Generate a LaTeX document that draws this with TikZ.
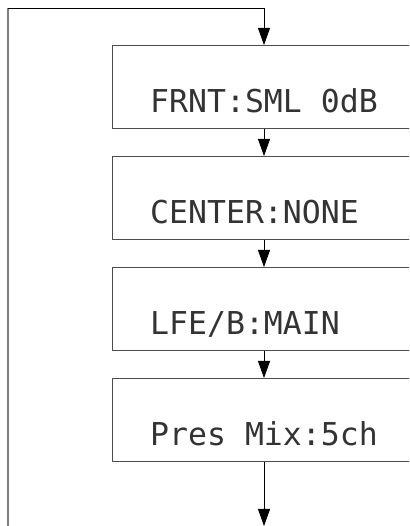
\documentclass[tikz,border=0pt]{standalone}
\usepackage{fontspec}
\newfontfamily\lcdfont{DejaVu Sans Mono}
\usetikzlibrary{arrows.meta}
\tikzset{
  menubox/.style={draw=black!70,line width=0.9pt,minimum width=308pt,minimum height=83pt,anchor=north west,inner sep=0pt},
  lcdtext/.style={anchor=base west,inner sep=0pt,font=\fontsize{31.5}{31.5}\selectfont\lcdfont,text=black!80},
  flow/.style={line width=0.8pt,-{Triangle[width=12pt,length=17pt]}}
}
\begin{document}
\begin{tikzpicture}[x=1pt,y=1pt]
        \useasboundingbox (0,0) rectangle (409,526);
        \clip (0,0) rectangle (409,526);

        % Menu screens, one below the other
        \foreach \i/\txt in {1/{FRNT:SML 0dB},2/{CENTER:NONE},3/{LFE/B:MAIN},4/{Pres Mix:5ch}} {
            \node[menubox] (b\i) at (112,{481-111*(\i-1)}) {};
            \node[lcdtext] (t\i) at ([shift={(38,16)}]b\i.south west) {\txt};
        }

        % Loop back to the first screen
        \coordinate (start) at (8,0);
        \coordinate (corner) at (8,518);
        \coordinate (top) at (264,518);
        \coordinate (end) at (264,0);
        \draw[black!50,line width=1.4pt] (start) -- (corner);
        \draw[line width=0.8pt] (corner) -- (top);
        \draw[flow] (top) -- (b1.north -| top);

        % Steps between screens
        \foreach \i/\j in {1/2,2/3,3/4}
            \draw[flow] (b\i.south -| top) -- (b\j.north -| top);
        \draw[flow] (b4.south -| top) -- (end);
    \end{tikzpicture}
\end{document}
